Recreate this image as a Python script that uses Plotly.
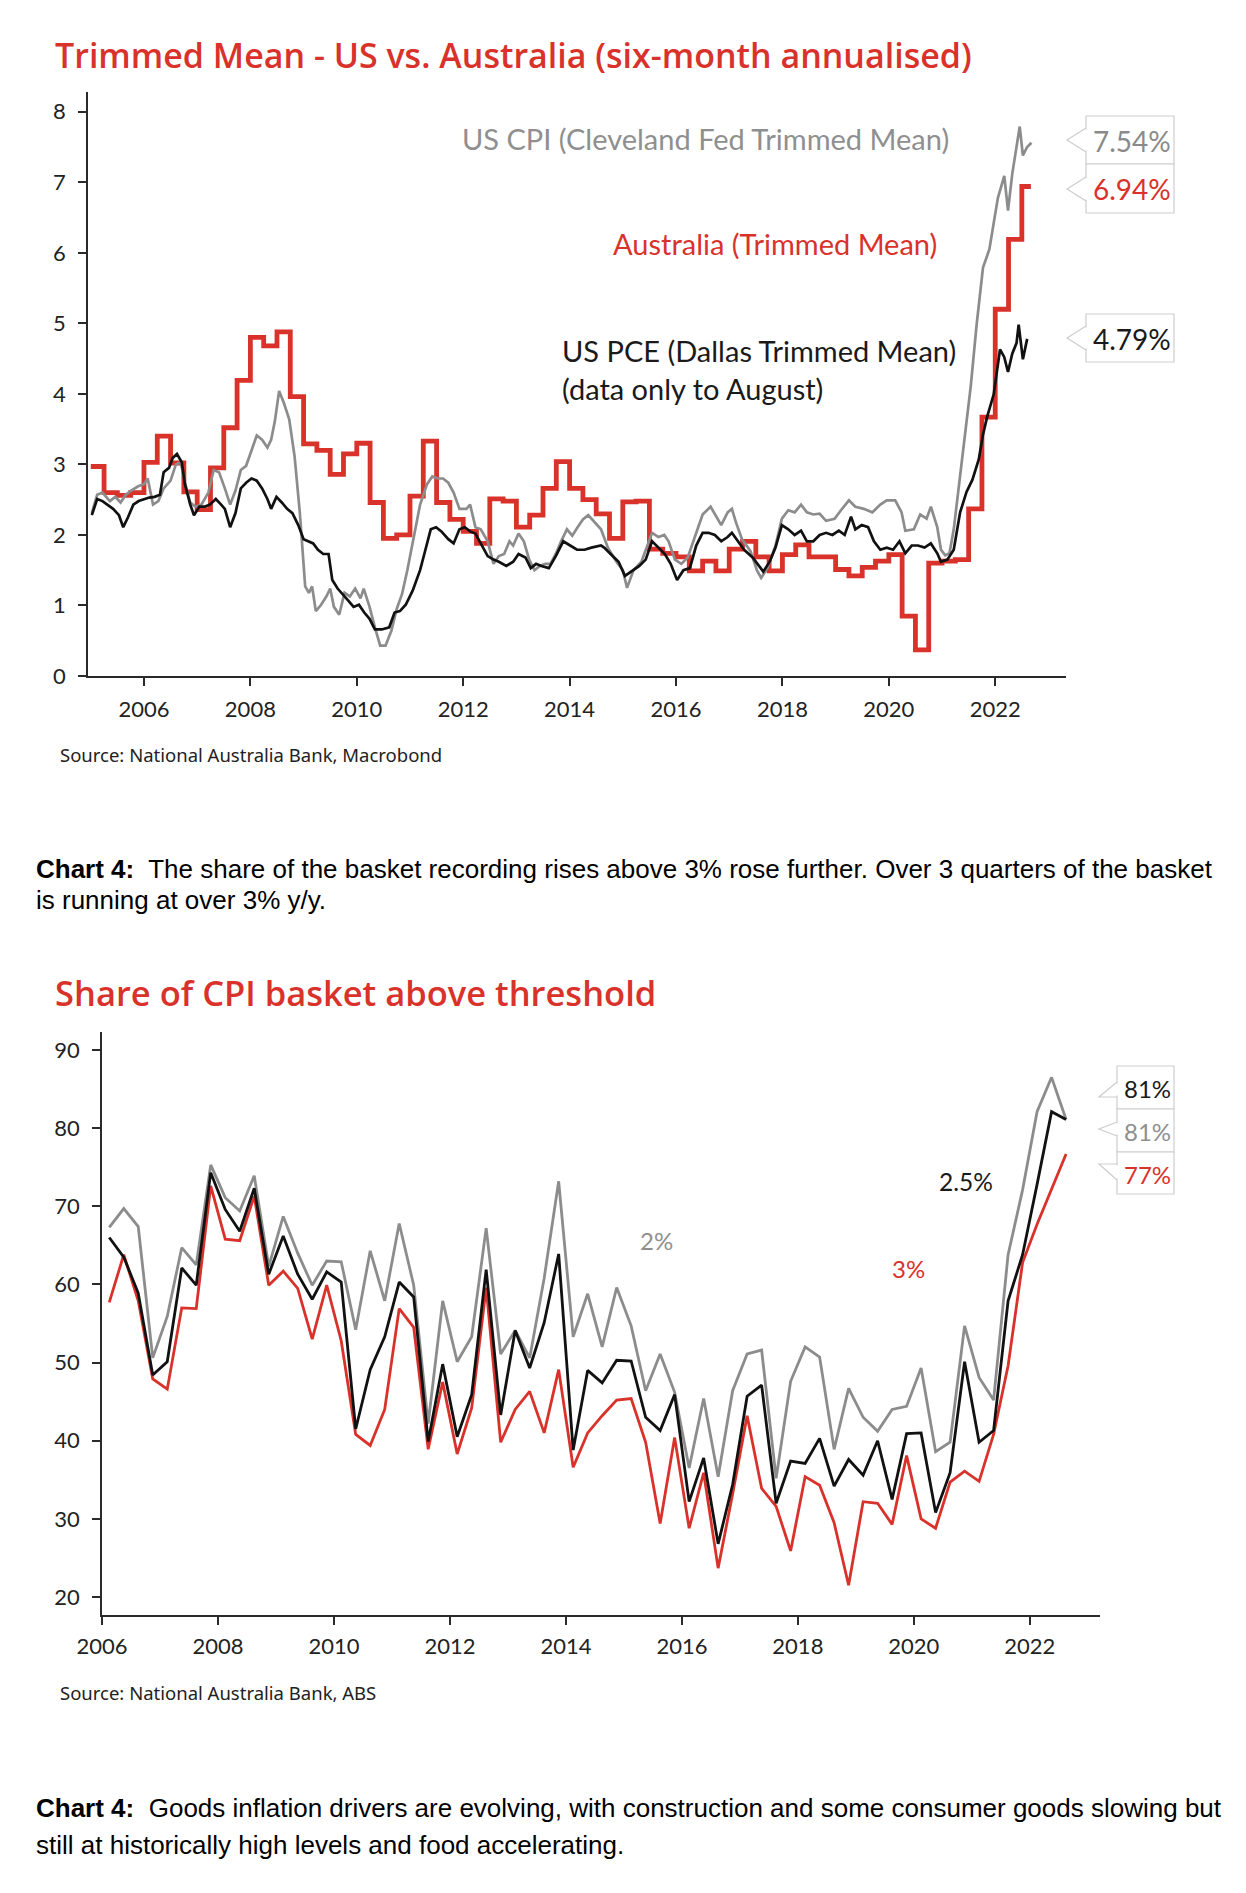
import plotly.graph_objects as go

W, H = 1246, 1893
RED = "#d8322b"
GREY = "#8c8c8c"
BLACK = "#111111"
AXIS = "#2a2a2a"
TXT = "#222222"

TICK_YEARS = [2006, 2008, 2010, 2012, 2014, 2016, 2018, 2020, 2022]
TICK_LABELS = [str(y) for y in TICK_YEARS]

# ---------------- Chart 1: trimmed mean, six-month annualised ----------------
AU_FIRST_QUARTER = 2005.0          # 2005Q1
AU_LAST_MONTH = 2022.67            # last monthly observation (Sep 2022)
AU_TRIMMED_MEAN = [
    2.97, 2.60, 2.56, 2.60,
    3.03, 3.40, 3.02, 2.61,
    2.36, 2.95, 3.52, 4.19,
    4.80, 4.68, 4.88, 3.96,
    3.29, 3.20, 2.86, 3.15,
    3.30, 2.46, 1.95, 2.00,
    2.55, 3.33, 2.46, 2.22,
    2.05, 1.88, 2.51, 2.48,
    2.11, 2.28, 2.66, 3.04,
    2.66, 2.50, 2.30, 1.95,
    2.47, 2.48, 1.80, 1.74,
    1.69, 1.49, 1.63, 1.49,
    1.80, 1.91, 1.69, 1.49,
    1.72, 1.86, 1.69, 1.69,
    1.51, 1.42, 1.54, 1.63,
    1.72, 0.85, 0.37, 1.60,
    1.63, 1.65, 2.37, 3.67,
    5.20, 6.19, 6.94,
]

US_CPI_T = [
    2005.02, 2005.12, 2005.22, 2005.36, 2005.46, 2005.56, 2005.66, 2005.76, 2005.89, 2006.00,
    2006.07, 2006.17, 2006.27, 2006.37, 2006.50, 2006.60, 2006.69, 2006.77, 2006.87, 2006.97,
    2007.08, 2007.21, 2007.31, 2007.41, 2007.52, 2007.62, 2007.72, 2007.82, 2007.92, 2008.02,
    2008.12, 2008.22, 2008.32, 2008.39, 2008.46, 2008.54, 2008.63, 2008.73, 2008.83, 2008.93,
    2009.03, 2009.10, 2009.16, 2009.23, 2009.33, 2009.43, 2009.50, 2009.57, 2009.67, 2009.77,
    2009.87, 2009.97, 2010.07, 2010.13, 2010.24, 2010.34, 2010.44, 2010.54, 2010.65, 2010.75,
    2010.85, 2010.95, 2011.05, 2011.19, 2011.32, 2011.42, 2011.52, 2011.62, 2011.72, 2011.82,
    2011.93, 2012.06, 2012.13, 2012.23, 2012.33, 2012.46, 2012.57, 2012.67, 2012.77, 2012.87,
    2012.94, 2013.04, 2013.14, 2013.24, 2013.34, 2013.44, 2013.54, 2013.64, 2013.74, 2013.84,
    2013.95, 2014.05, 2014.15, 2014.25, 2014.35, 2014.45, 2014.59, 2014.72, 2014.88, 2015.00,
    2015.08, 2015.20, 2015.35, 2015.55, 2015.67, 2015.78, 2015.86, 2015.98, 2016.10, 2016.22,
    2016.38, 2016.50, 2016.65, 2016.73, 2016.85, 2016.97, 2017.05, 2017.13, 2017.24, 2017.40,
    2017.52, 2017.60, 2017.72, 2017.87, 2017.99, 2018.11, 2018.23, 2018.35, 2018.46, 2018.58,
    2018.70, 2018.82, 2018.98, 2019.10, 2019.25, 2019.37, 2019.53, 2019.69, 2019.84, 2019.96,
    2020.12, 2020.24, 2020.31, 2020.47, 2020.59, 2020.71, 2020.79, 2020.91, 2020.98, 2021.06,
    2021.14, 2021.22, 2021.30, 2021.42, 2021.54, 2021.65, 2021.77, 2021.89, 2021.97, 2022.05,
    2022.17, 2022.24, 2022.32, 2022.40, 2022.46, 2022.52, 2022.60, 2022.68,
]
US_CPI_V = [
    2.31, 2.57, 2.60, 2.48, 2.54, 2.46, 2.57, 2.63, 2.69, 2.72,
    2.80, 2.43, 2.48, 2.66, 2.77, 3.00, 3.03, 2.74, 2.46, 2.40,
    2.43, 2.60, 2.92, 2.89, 2.66, 2.43, 2.63, 2.92, 2.98, 3.21,
    3.41, 3.35, 3.24, 3.35, 3.61, 4.04, 3.87, 3.64, 3.12, 2.31,
    1.27, 1.18, 1.27, 0.92, 1.01, 1.13, 1.24, 0.98, 0.87, 1.18,
    1.13, 1.24, 1.10, 1.24, 0.98, 0.69, 0.43, 0.43, 0.64, 0.95,
    1.16, 1.50, 1.91, 2.43, 2.72, 2.83, 2.80, 2.80, 2.74, 2.60,
    2.37, 2.37, 2.43, 2.11, 2.08, 1.91, 1.59, 1.70, 1.73, 1.91,
    1.85, 2.02, 1.91, 1.65, 1.50, 1.56, 1.59, 1.59, 1.73, 1.91,
    2.08, 1.99, 2.11, 2.22, 2.28, 2.20, 2.08, 1.82, 1.62, 1.50,
    1.25, 1.50, 1.62, 2.03, 1.97, 2.00, 1.91, 1.65, 1.59, 1.68,
    2.03, 2.29, 2.40, 2.29, 2.14, 2.32, 2.37, 2.17, 1.94, 1.77,
    1.50, 1.39, 1.53, 1.85, 2.23, 2.35, 2.32, 2.43, 2.32, 2.29,
    2.30, 2.20, 2.23, 2.35, 2.49, 2.40, 2.37, 2.32, 2.43, 2.49,
    2.49, 2.32, 2.06, 2.08, 2.29, 2.23, 2.40, 2.11, 1.79, 1.71,
    1.74, 2.08, 2.60, 3.36, 4.11, 4.98, 5.79, 6.05, 6.43, 6.78,
    7.09, 6.60, 7.12, 7.50, 7.79, 7.38, 7.50, 7.56,
]

US_PCE_T = [
    2005.02, 2005.12, 2005.22, 2005.32, 2005.42, 2005.53, 2005.61, 2005.70, 2005.80, 2005.90,
    2006.00, 2006.10, 2006.20, 2006.30, 2006.37, 2006.47, 2006.54, 2006.62, 2006.71, 2006.77,
    2006.87, 2006.94, 2007.04, 2007.14, 2007.24, 2007.35, 2007.45, 2007.52, 2007.62, 2007.72,
    2007.82, 2007.92, 2008.02, 2008.12, 2008.22, 2008.32, 2008.39, 2008.49, 2008.59, 2008.69,
    2008.79, 2008.90, 2009.00, 2009.10, 2009.18, 2009.27, 2009.37, 2009.47, 2009.54, 2009.64,
    2009.74, 2009.84, 2009.94, 2010.04, 2010.14, 2010.24, 2010.34, 2010.47, 2010.61, 2010.71,
    2010.81, 2010.92, 2011.05, 2011.19, 2011.29, 2011.39, 2011.49, 2011.59, 2011.72, 2011.82,
    2011.93, 2012.03, 2012.13, 2012.23, 2012.33, 2012.46, 2012.57, 2012.67, 2012.81, 2012.94,
    2013.04, 2013.17, 2013.27, 2013.37, 2013.47, 2013.61, 2013.74, 2013.88, 2014.01, 2014.14,
    2014.28, 2014.41, 2014.59, 2014.65, 2014.77, 2014.92, 2015.04, 2015.16, 2015.31, 2015.43,
    2015.55, 2015.67, 2015.79, 2015.90, 2016.02, 2016.14, 2016.26, 2016.38, 2016.50, 2016.61,
    2016.73, 2016.85, 2016.97, 2017.05, 2017.17, 2017.28, 2017.44, 2017.56, 2017.64, 2017.76,
    2017.87, 2017.99, 2018.11, 2018.23, 2018.35, 2018.46, 2018.58, 2018.70, 2018.82, 2018.94,
    2019.06, 2019.17, 2019.29, 2019.37, 2019.49, 2019.61, 2019.72, 2019.84, 2019.96, 2020.08,
    2020.20, 2020.31, 2020.43, 2020.55, 2020.67, 2020.79, 2020.91, 2020.98, 2021.10, 2021.22,
    2021.34, 2021.46, 2021.57, 2021.69, 2021.77, 2021.85, 2021.97, 2022.09, 2022.17, 2022.24,
    2022.32, 2022.40, 2022.44, 2022.52, 2022.60,
]
US_PCE_V = [
    2.28, 2.51, 2.48, 2.43, 2.37, 2.28, 2.11, 2.25, 2.43, 2.48,
    2.51, 2.53, 2.54, 2.57, 2.89, 2.95, 3.09, 3.15, 3.03, 2.72,
    2.43, 2.28, 2.40, 2.40, 2.43, 2.51, 2.43, 2.37, 2.11, 2.31,
    2.66, 2.74, 2.80, 2.77, 2.66, 2.51, 2.37, 2.54, 2.46, 2.37,
    2.31, 2.14, 1.94, 1.91, 1.88, 1.79, 1.73, 1.73, 1.36, 1.24,
    1.16, 1.07, 0.98, 1.01, 0.90, 0.81, 0.66, 0.66, 0.69, 0.90,
    0.92, 1.01, 1.21, 1.50, 1.79, 2.08, 2.11, 2.05, 1.94, 1.88,
    2.08, 2.11, 2.05, 2.02, 1.88, 1.70, 1.65, 1.62, 1.56, 1.62,
    1.73, 1.68, 1.53, 1.59, 1.56, 1.53, 1.70, 1.91, 1.85, 1.79,
    1.79, 1.82, 1.85, 1.82, 1.73, 1.62, 1.42, 1.48, 1.56, 1.65,
    1.91, 1.82, 1.73, 1.59, 1.36, 1.50, 1.53, 1.85, 2.03, 2.03,
    2.00, 1.91, 1.97, 2.03, 1.91, 1.79, 1.68, 1.56, 1.48, 1.62,
    1.82, 2.14, 2.08, 2.00, 2.06, 1.91, 1.91, 2.00, 2.03, 2.00,
    2.06, 2.00, 2.26, 2.08, 2.14, 2.11, 1.91, 1.79, 1.82, 1.79,
    1.91, 1.74, 1.85, 1.85, 1.82, 1.88, 1.74, 1.62, 1.65, 1.79,
    2.32, 2.61, 2.78, 3.07, 3.42, 3.68, 3.99, 4.63, 4.52, 4.31,
    4.57, 4.72, 4.98, 4.49, 4.78,
]
END_LABELS_1 = ["7.54%", "6.94%", "4.79%"]

# ---------------- Chart 2: share of CPI basket above threshold ----------------
BASKET_FIRST_QUARTER = 2006.125    # 2006Q1 (mid-quarter)
SHARE_ABOVE_2 = [
    67.3, 69.7, 67.4, 50.6, 55.9, 64.7, 62.5, 75.3, 71.1, 69.4,
    73.9, 62.3, 68.7, 64.0, 59.9, 63.0, 62.9, 54.2, 64.3, 57.9,
    67.8, 59.9, 42.2, 57.9, 50.1, 53.3, 67.2, 51.1, 54.1, 50.6,
    60.8, 73.2, 53.3, 58.8, 52.0, 59.6, 54.7, 46.4, 51.1, 46.2,
    36.5, 45.4, 35.4, 46.4, 51.1, 51.6, 35.2, 47.6, 52.0, 50.7,
    38.9, 46.7, 43.0, 41.2, 44.0, 44.4, 49.3, 38.6, 39.8, 54.7,
    48.1, 45.2, 63.8, 72.1, 82.1, 86.5, 81.1,
]
SHARE_ABOVE_25 = [
    66.0, 63.5, 58.9, 48.4, 50.1, 62.1, 59.9, 74.3, 69.6, 66.8,
    72.3, 61.3, 66.2, 61.3, 58.1, 61.6, 60.3, 41.5, 49.1, 53.3,
    60.3, 58.4, 39.9, 49.8, 40.5, 45.9, 61.9, 43.3, 54.1, 49.3,
    55.1, 63.9, 38.8, 49.0, 47.4, 50.3, 50.2, 43.0, 41.3, 45.9,
    32.2, 37.8, 26.8, 34.4, 45.7, 47.1, 32.0, 37.4, 37.1, 40.3,
    34.2, 37.6, 35.6, 40.0, 32.5, 40.9, 41.0, 30.8, 35.9, 50.1,
    39.8, 41.3, 57.9, 63.8, 72.8, 82.1, 81.1,
]
SHARE_ABOVE_3 = [
    57.7, 63.8, 57.9, 47.9, 46.6, 57.0, 56.9, 72.6, 65.8, 65.6,
    71.3, 59.9, 61.7, 59.5, 53.0, 59.9, 52.8, 40.8, 39.4, 44.0,
    56.9, 54.5, 38.9, 47.5, 38.3, 44.2, 59.6, 39.8, 44.0, 46.3,
    41.0, 49.1, 36.6, 41.0, 43.2, 45.2, 45.4, 39.8, 29.4, 40.4,
    28.8, 35.9, 23.7, 33.2, 43.2, 33.9, 31.6, 25.9, 35.4, 34.3,
    29.5, 21.5, 32.2, 32.0, 29.3, 38.1, 30.0, 28.8, 34.7, 36.1,
    34.8, 40.8, 49.6, 62.8, 67.7, 72.3, 76.7,
]
END_LABELS_2 = ["81%", "81%", "77%"]

# ---------------- build ----------------
def fx(p):
    return p / W


def fy(p):
    return 1 - p / H


au_x = [AU_FIRST_QUARTER + 0.25 * i for i in range(len(AU_TRIMMED_MEAN))] + [AU_LAST_MONTH]
au_y = AU_TRIMMED_MEAN + [AU_TRIMMED_MEAN[-1]]
bx = [BASKET_FIRST_QUARTER + 0.25 * i for i in range(len(SHARE_ABOVE_2))]

fig = go.Figure()
fig.add_trace(go.Scatter(x=au_x, y=au_y, mode="lines", line=dict(color=RED, width=4.8, shape="hv"),
                         xaxis="x", yaxis="y", name="Australia (Trimmed Mean)"))
fig.add_trace(go.Scatter(x=US_CPI_T, y=US_CPI_V, mode="lines", line=dict(color=GREY, width=2.7),
                         xaxis="x", yaxis="y", name="US CPI"))
fig.add_trace(go.Scatter(x=US_PCE_T, y=US_PCE_V, mode="lines", line=dict(color=BLACK, width=2.7),
                         xaxis="x", yaxis="y", name="US PCE"))

fig.add_trace(go.Scatter(x=bx, y=SHARE_ABOVE_2, mode="lines", line=dict(color=GREY, width=2.8),
                         xaxis="x2", yaxis="y2", name="2%"))
fig.add_trace(go.Scatter(x=bx, y=SHARE_ABOVE_3, mode="lines", line=dict(color=RED, width=2.8),
                         xaxis="x2", yaxis="y2", name="3%"))
fig.add_trace(go.Scatter(x=bx, y=SHARE_ABOVE_25, mode="lines", line=dict(color=BLACK, width=2.8),
                         xaxis="x2", yaxis="y2", name="2.5%"))

TICKFONT = dict(family="Lato", size=22, color=TXT)
axis_common = dict(showgrid=False, zeroline=False, showline=True, linecolor=AXIS, linewidth=1.5,
                   ticks="outside", ticklen=8, tickwidth=1.5, tickcolor=AXIS, tickfont=TICKFONT,
                   automargin=False)

fig.update_layout(
    template="none",
    width=W, height=H, margin=dict(l=0, r=0, t=0, b=0, pad=0),
    paper_bgcolor="white", plot_bgcolor="white", showlegend=False,
    xaxis=dict(domain=[fx(88), fx(1066)], range=[2004.948, 2023.33], anchor="y",
               tickvals=TICK_YEARS, ticktext=TICK_LABELS, ticklabelstandoff=5, **axis_common),
    yaxis=dict(domain=[fy(676), fy(92)], range=[0, 8.28], anchor="x",
               tickvals=list(range(0, 9)), ticklabelstandoff=8, **axis_common),
    xaxis2=dict(domain=[fx(102), fx(1100)], range=[2006, 2023.21], anchor="y2",
                tickvals=TICK_YEARS, ticktext=TICK_LABELS, ticklabelstandoff=3, **axis_common),
    yaxis2=dict(domain=[fy(1615), fy(1032)], range=[17.7, 92.3], anchor="x2",
                tickvals=list(range(20, 100, 10)), ticklabelstandoff=8, **axis_common),
)

ann = []
shapes = []


def text(x, y, s, size, color, family="Lato", xanchor="left", yanchor="middle", weight=None):
    f = dict(family=family, size=size, color=color)
    if weight:
        f["weight"] = weight
    ann.append(dict(x=fx(x), y=fy(y), xref="paper", yref="paper", text=s, showarrow=False,
                    xanchor=xanchor, yanchor=yanchor, font=f, align="left"))


BORDER = "#cdcdcd"


def callout(left, top, bottom, right, tail, label, color, size):
    p = "M {} {} L {} {} L {} {}".format(fx(tail[0][0]), fy(tail[0][1]), fx(tail[1][0]), fy(tail[1][1]),
                                       fx(tail[2][0]), fy(tail[2][1]))
    shapes.append(dict(type="path", path=p, xref="paper", yref="paper",
                       line=dict(color=BORDER, width=1.2), fillcolor="white", layer="above"))
    shapes.append(dict(type="rect", x0=fx(left), x1=fx(right), y0=fy(bottom), y1=fy(top),
                       xref="paper", yref="paper", line=dict(color=BORDER, width=1.2),
                       fillcolor="white", layer="above"))
    ys = [tail[0][1], tail[2][1]]
    shapes.append(dict(type="line", x0=fx(left), x1=fx(left), y0=fy(min(ys) + 1.5), y1=fy(max(ys) - 1.5),
                       xref="paper", yref="paper", line=dict(color="white", width=2), layer="above"))
    text((left + right) / 2 + 2, (top + bottom) / 2 + 1, label, size, color, xanchor="center")


# --- Chart 1 texts ---
text(53, 55, "Trimmed Mean - US vs. Australia (six-month annualised)", 34, RED,
     family="Open Sans", weight=600)
text(705, 138, "US CPI (Cleveland Fed Trimmed Mean)", 29, "#8f8f8f", xanchor="center")
text(775, 244, "Australia (Trimmed Mean)", 29, RED, xanchor="center")
text(560, 350, "US PCE (Dallas Trimmed Mean)", 29, "#1a1a1a")
text(560, 389, "(data only to August)", 29, "#1a1a1a")
text(58, 754, "Source: National Australia Bank, Macrobond", 18.5, TXT, family="Noto Sans")

callout(1086, 116, 164, 1174, [(1086, 128), (1067, 140), (1086, 152)], END_LABELS_1[0], "#8a8a8a", 28)
callout(1086, 164, 213, 1174, [(1086, 177), (1067, 189), (1086, 201)], END_LABELS_1[1], RED, 28)
callout(1086, 314, 362, 1174, [(1086, 326), (1067, 338), (1086, 350)], END_LABELS_1[2], "#1a1a1a", 28)

# --- caption 1 ---
text(34, 869, "<b>Chart 4:</b>  The share of the basket recording rises above 3% rose further. "
     "Over 3 quarters of the basket", 26, "#000000", family="Liberation Sans")
text(34, 900, "is running at over 3% y/y.", 26, "#000000", family="Liberation Sans")

# --- Chart 2 texts ---
text(53, 992, "Share of CPI basket above threshold", 34.5, RED, family="Open Sans", weight=600)
text(656, 1240, "2%", 24, "#8f8f8f", xanchor="center")
text(908, 1268, "3%", 24, RED, xanchor="center")
text(966, 1181, "2.5%", 24.5, "#1a1a1a", xanchor="center")
text(58, 1692, "Source: National Australia Bank, ABS", 18.5, TXT, family="Noto Sans")

callout(1117, 1066, 1109, 1174, [(1117, 1082), (1099, 1097), (1117, 1097)], END_LABELS_2[0], "#1a1a1a", 24)
callout(1117, 1109, 1152, 1174, [(1117, 1122), (1099, 1129), (1117, 1136)], END_LABELS_2[1], "#8f8f8f", 24)
callout(1117, 1152, 1194, 1174, [(1117, 1164), (1099, 1164), (1117, 1180)], END_LABELS_2[2], RED, 24)

# --- caption 2 ---
text(34, 1808, "<b>Chart 4:</b>  Goods inflation drivers are evolving, with construction and some consumer "
     "goods slowing but", 26, "#000000", family="Liberation Sans")
text(34, 1845, "still at historically high levels and food accelerating.", 26, "#000000",
     family="Liberation Sans")

fig.update_layout(annotations=ann, shapes=shapes)

fig.write_html("out.html", config={"displayModeBar": False},
               post_script="document.body.style.margin='0';document.body.style.overflow='hidden';")
